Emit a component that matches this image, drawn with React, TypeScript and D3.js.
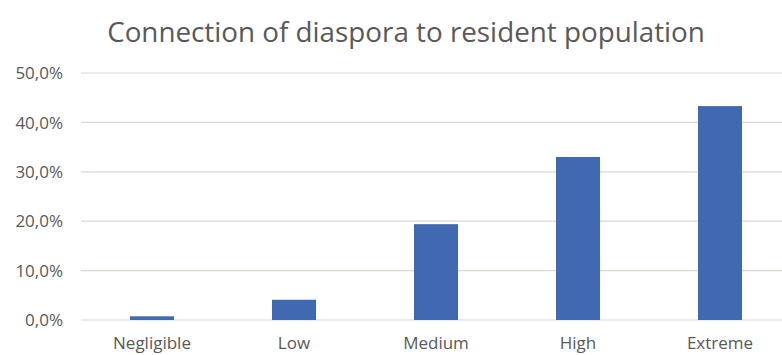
import React from "react";
import * as d3 from "d3";

const categories = ["Negligible", "Low", "Medium", "High", "Extreme"];
const values = [0.75, 4.1, 19.4, 33.0, 43.3];
const yTicks = [0, 10, 20, 30, 40, 50];
const title = "Connection of diaspora to resident population";

const W = 782;
const H = 355;
const left = 81;
const right = 791;
const top = 73;
const bottom = 320;

export default function App() {
  const x = d3.scaleBand<string>().domain(categories).range([left, right]).paddingInner(0.69).paddingOuter(0.345);
  const y = d3.scaleLinear().domain([0, 50]).range([bottom, top]);
  const fmt = (v: number) => v.toFixed(1).replace(".", ",") + "%";
  return (
    <svg width={W} height={H} style={{ position: "absolute", left: 0, top: 0, background: "#fff" }}
      fontFamily="'Open Sans', sans-serif">
      <rect x={0} y={0} width={W} height={H} fill="#fff" />
      <text x={406} y={42} textAnchor="middle" fontSize={27.8} fill="#595959">{title}</text>
      {yTicks.map((t) => (
        <g key={t}>
          <line x1={left} x2={right} y1={y(t)} y2={y(t)} stroke="#dcd6d2" strokeWidth={1.2} />
          <text x={63} y={y(t)} dy="0.36em" textAnchor="end" fontSize={17} fill="#595959">{fmt(t)}</text>
        </g>
      ))}
      {categories.map((c, i) => (
        <rect key={c} x={x(c)} y={y(values[i])} width={x.bandwidth()} height={y(0) - y(values[i])} fill="#4169b2" />
      ))}
      {categories.map((c) => (
        <text key={c} x={(x(c) as number) + x.bandwidth() / 2} y={349} textAnchor="middle" fontSize={17} fill="#595959">{c}</text>
      ))}
    </svg>
  );
}
